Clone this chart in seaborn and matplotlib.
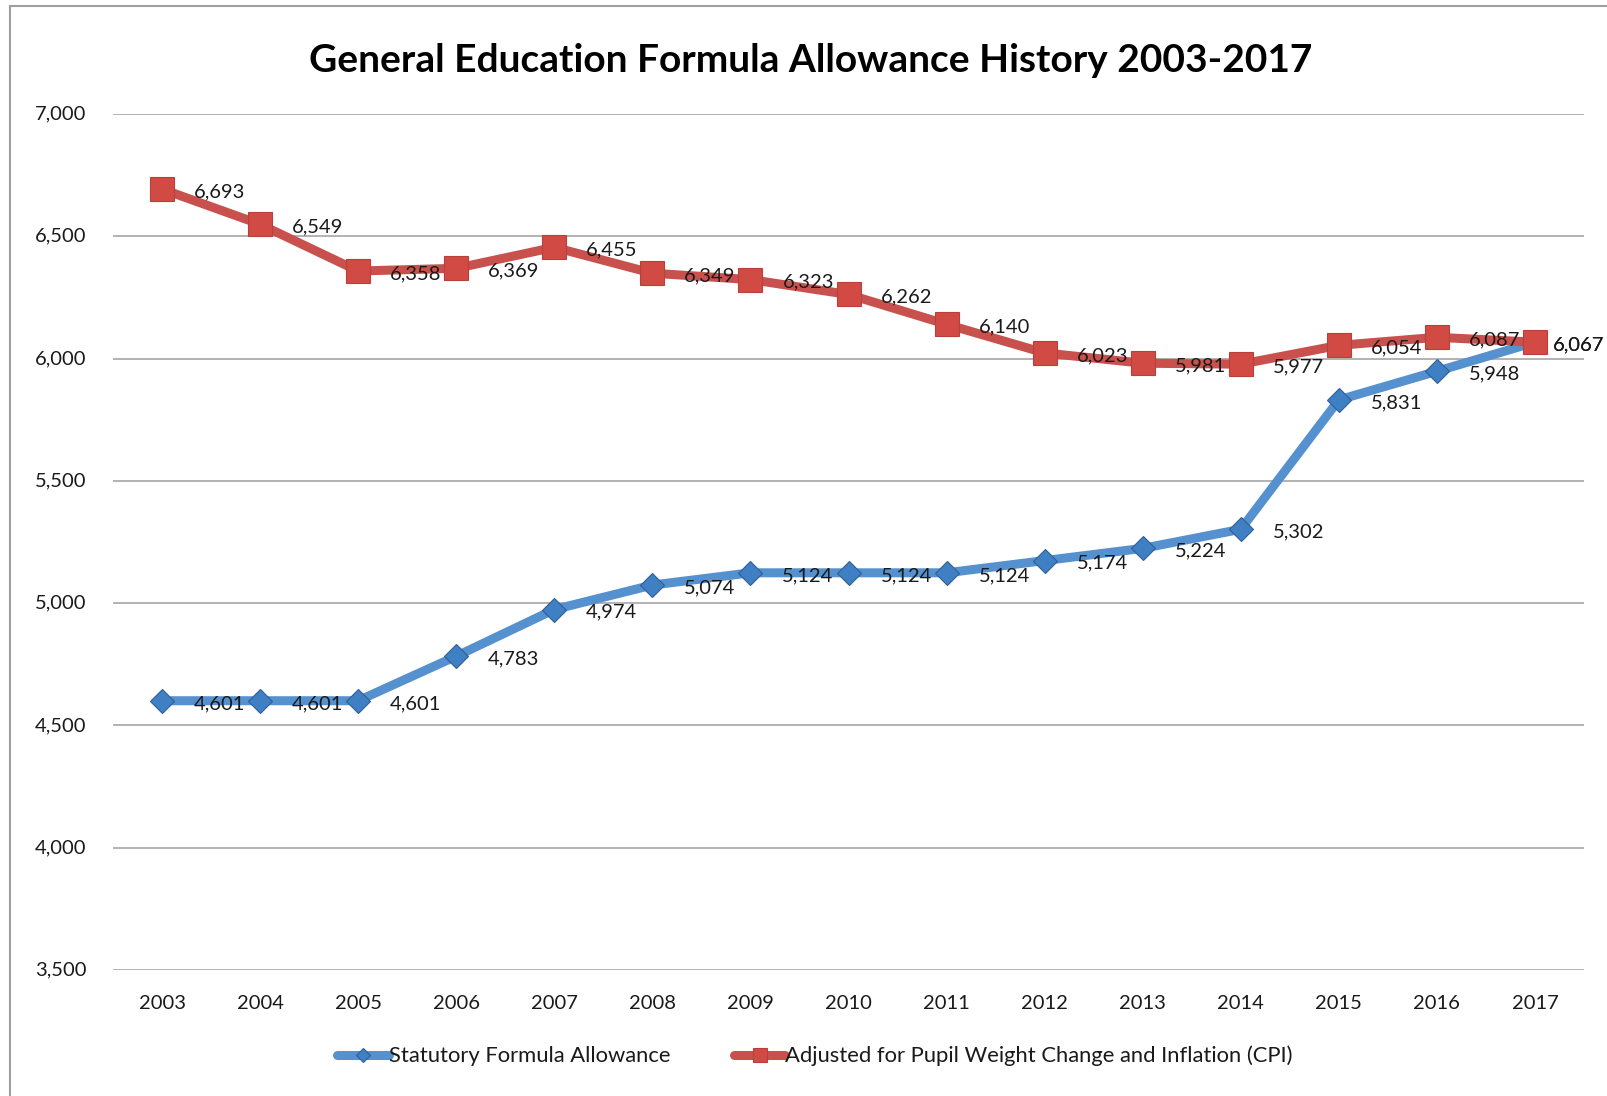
import matplotlib
matplotlib.use("Agg")
import matplotlib.pyplot as plt
import matplotlib.patches as mpatches
import matplotlib.ticker as mticker
import seaborn as sns
import pandas as pd

years = [2003, 2004, 2005, 2006, 2007, 2008, 2009, 2010, 2011, 2012, 2013, 2014, 2015, 2016, 2017]
statutory = [4601, 4601, 4601, 4783, 4974, 5074, 5124, 5124, 5124, 5174, 5224, 5302, 5831, 5948, 6067]
adjusted = [6693, 6549, 6358, 6369, 6455, 6349, 6323, 6262, 6140, 6023, 5981, 5977, 6054, 6087, 6067]
series_names = ["Statutory Formula Allowance", "Adjusted for Pupil Weight Change and Inflation (CPI)"]
title = "General Education Formula Allowance History 2003-2017"
yticks = [3500, 4000, 4500, 5000, 5500, 6000, 6500, 7000]

sns.set_theme(style="white")
plt.rcParams["font.family"] = ["Lato", "DejaVu Sans"]

blue_line = "#5590CF"
blue_mark = "#3F7FC4"
red_line = "#C9514D"
red_mark = "#D24A44"
text_col = "#1A1A1A"

fig = plt.figure(figsize=(16.08, 10.96), dpi=100)
ax = fig.add_axes([113 / 1608, 1 - 970 / 1096, (1584 - 113) / 1608, (970 - 114) / 1096])

df_b = pd.DataFrame({"year": years, "value": statutory})
df_r = pd.DataFrame({"year": years, "value": adjusted})

sns.lineplot(data=df_b, x="year", y="value", ax=ax, color=blue_line, lw=6.5,
             marker="D", markersize=12.5, markerfacecolor=blue_mark, markeredgecolor="#2F5F95",
             markeredgewidth=0.8, label=series_names[0], zorder=3)
sns.lineplot(data=df_r, x="year", y="value", ax=ax, color=red_line, lw=6.5,
             marker="s", markersize=17, markerfacecolor=red_mark, markeredgecolor="#B8403B",
             markeredgewidth=0.8, label=series_names[1], zorder=4)

n = len(years)
for series in (statutory, adjusted):
    for i, (x, v) in enumerate(zip(years, series)):
        dx = 13 if i == n - 1 else 23
        ax.annotate(f"{v:,}", xy=(x, v), xytext=(dx, -2), textcoords="offset points",
                    ha="left", va="center", fontsize=14.5, color=text_col, zorder=6,
                    annotation_clip=False)

ax.set_xlim(years[0] - 0.5, years[-1] + 0.5)
ax.set_ylim(yticks[0], yticks[-1])
ax.set_yticks(yticks)
ax.set_xticks(years)
ax.set_xticklabels([str(y) for y in years])
ax.yaxis.set_major_formatter(mticker.FuncFormatter(lambda v, p: f"{int(v):,}"))
ax.grid(axis="y", color="#A6A6A6", lw=1.2)
ax.grid(axis="x", visible=False)
for s in ax.spines.values():
    s.set_visible(False)
ax.tick_params(axis="y", length=0, pad=19, labelsize=14.5, labelcolor=text_col)
ax.tick_params(axis="x", length=0, pad=18, labelsize=14.5, labelcolor=text_col)
for lbl in ax.get_yticklabels():
    lbl.set_va("center")
ax.set_xlabel("")
ax.set_ylabel("")
ax.set_axisbelow(True)

ax.get_legend().remove()
handles, labels = ax.get_legend_handles_labels()
leg = fig.legend(handles, labels, loc="center", bbox_to_anchor=(815 / 1608, 1 - 1056 / 1096),
                 ncol=2, frameon=False, fontsize=15.8, handlelength=2.35, handletextpad=0.0,
                 columnspacing=2.9, markerscale=0.6)
for t in leg.get_texts():
    t.set_color(text_col)

fig.text(811 / 1608, 1 - 60 / 1096, title, ha="center", va="center",
         fontsize=28, fontweight="bold", color="black")

fig.patches.append(mpatches.Rectangle((10 / 1608, -0.1), 1.2, 1 - 6 / 1096 + 0.1,
                                      transform=fig.transFigure, fill=False,
                                      edgecolor="#A0A0A0", lw=1.5))

fig.savefig("out.png", dpi=100)
